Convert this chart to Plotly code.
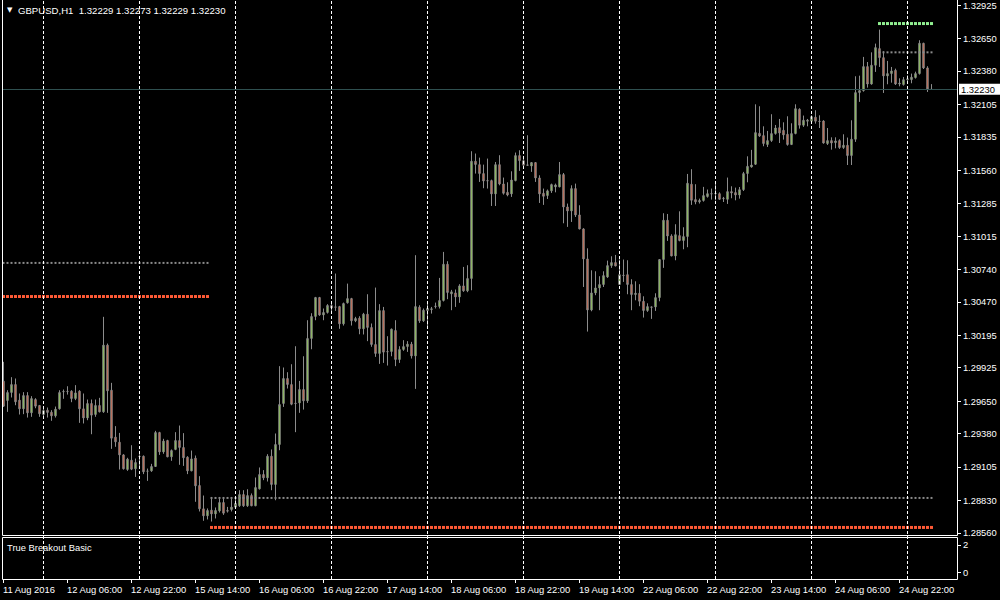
import plotly.graph_objects as go

# ---------------- data (GBPUSD H1, 11 Aug 2016 14:00 .. 25 Aug 2016 06:00) ----------------
symbol = "GBPUSD,H1"

opens = [
 1.29816,1.29656,1.29722,1.29788,1.29659,1.29587,1.29697,1.29554,1.29664,1.29615,
 1.29540,1.29576,1.29559,1.29529,1.29587,1.29728,1.29730,1.29733,1.29672,1.29733,
 1.29587,1.29512,1.29631,1.29540,1.29615,1.29562,1.30114,1.29741,1.29353,1.29311,
 1.29206,1.29085,1.29162,1.29091,1.29195,1.29195,1.29071,1.29074,1.29110,1.29391,
 1.29231,1.29325,1.29190,1.29251,1.29325,1.29267,1.29187,1.29074,1.29179,1.28953,
 1.28760,1.28702,1.28749,1.28718,1.28743,1.28812,1.28746,1.28754,1.28774,1.28785,
 1.28878,1.28785,1.28870,1.28785,1.28925,1.29044,1.29016,1.29195,1.28961,1.29292,
 1.29631,1.29838,1.29788,1.29634,1.29636,1.29747,1.29653,1.30169,1.30351,1.30508,
 1.30364,1.30384,1.30442,1.30430,1.30433,1.30290,1.30464,1.30499,1.30315,1.30337,
 1.30249,1.30370,1.30260,1.30119,1.30045,1.30400,1.30061,1.30061,1.30235,1.29995,
 1.30078,1.30102,1.30122,1.30025,1.30428,1.30315,1.30400,1.30408,1.30433,1.30433,
 1.30483,1.30783,1.30538,1.30546,1.30513,1.30604,1.30563,1.30665,1.31635,1.31607,
 1.31533,1.31475,1.31475,1.31365,1.31607,1.31447,1.31378,1.31365,1.31475,1.31682,
 1.31640,1.31605,1.31596,1.31624,1.31497,1.31370,1.31351,1.31390,1.31423,1.31423,
 1.31525,1.31257,1.31224,1.31409,1.31191,1.31075,1.30827,1.30405,1.30546,1.30587,
 1.30615,1.30678,1.30772,1.30797,1.30615,1.30692,1.30697,1.30615,1.30532,1.30543,
 1.30477,1.30400,1.30430,1.30430,1.30507,1.30822,1.31147,1.31017,1.30852,1.31020,
 1.30979,1.31012,1.31445,1.31318,1.31299,1.31310,1.31343,1.31367,1.31367,1.31367,
 1.31326,1.31320,1.31384,1.31376,1.31356,1.31400,1.31533,1.31588,1.31610,1.31866,
 1.31847,1.31773,1.31806,1.31864,1.31913,1.31891,1.31858,1.31773,1.31864,1.32065,
 1.31933,1.31966,1.31966,1.31999,1.31966,1.31968,1.31781,1.31806,1.31789,1.31806,
 1.31748,1.31767,1.31682,1.31817,1.32203,1.32219,1.32418,1.32274,1.32429,1.32567,
 1.32492,1.32341,1.32360,1.32387,1.32274,1.32269,1.32310,1.32310,1.32327,1.32360,
 1.32611,1.32407,1.32229,
]
highs = [
 1.29976,1.29741,1.29849,1.29838,1.29714,1.29725,1.29725,1.29692,1.29675,1.29618,
 1.29592,1.29598,1.29576,1.29606,1.29741,1.29747,1.29774,1.29741,1.29783,1.29741,
 1.29714,1.29664,1.29664,1.29664,1.29678,1.30348,1.30127,1.29802,1.29444,1.29388,
 1.29212,1.29182,1.29286,1.29176,1.29212,1.29201,1.29093,1.29132,1.29405,1.29397,
 1.29339,1.29331,1.29251,1.29394,1.29449,1.29386,1.29195,1.29242,1.29201,1.29030,
 1.28870,1.28763,1.28845,1.28771,1.28845,1.28845,1.28776,1.28845,1.28845,1.28914,
 1.28914,1.28922,1.28887,1.29019,1.29102,1.29080,1.29212,1.29251,1.29383,1.29940,
 1.29929,1.29890,1.29956,1.30105,1.29818,1.30022,1.30320,1.30378,1.30513,1.30513,
 1.30417,1.30453,1.30458,1.30706,1.30439,1.30466,1.30623,1.30505,1.30348,1.30353,
 1.30381,1.30535,1.30293,1.30590,1.30453,1.30430,1.30188,1.30251,1.30320,1.30105,
 1.30155,1.30147,1.30141,1.30858,1.30444,1.30417,1.30458,1.30430,1.30466,1.30670,
 1.30885,1.30808,1.30571,1.30574,1.30618,1.30761,1.30775,1.31718,1.31699,1.31665,
 1.31607,1.31657,1.31483,1.31629,1.31685,1.31500,1.31461,1.31552,1.31707,1.31726,
 1.31679,1.31850,1.31627,1.31627,1.31519,1.31409,1.31401,1.31450,1.31450,1.31629,
 1.31538,1.31285,1.31436,1.31450,1.31271,1.31081,1.30915,1.30733,1.30725,1.30684,
 1.30725,1.30813,1.30849,1.30860,1.30822,1.30822,1.30816,1.30659,1.30642,1.30618,
 1.30518,1.30460,1.30433,1.30543,1.30825,1.31205,1.31199,1.31031,1.31114,1.31221,
 1.31089,1.31530,1.31569,1.31445,1.31326,1.31423,1.31401,1.31409,1.31450,1.31378,
 1.31340,1.31500,1.31428,1.31417,1.31422,1.31547,1.31676,1.31729,1.32106,1.32090,
 1.31924,1.31886,1.32024,1.31935,1.31985,1.31957,1.32007,1.31949,1.32106,1.32073,
 1.32013,1.31985,1.32015,1.32057,1.32015,1.31974,1.31910,1.31833,1.31833,1.31817,
 1.31858,1.31831,1.31974,1.32338,1.32343,1.32498,1.32456,1.32536,1.32608,1.32724,
 1.32545,1.32465,1.32415,1.32401,1.32321,1.32332,1.32346,1.32360,1.32376,1.32636,
 1.32615,1.32421,1.32273,
]
lows = [
 1.29603,1.29562,1.29681,1.29617,1.29540,1.29543,1.29515,1.29521,1.29592,1.29521,
 1.29507,1.29515,1.29488,1.29515,1.29581,1.29670,1.29705,1.29642,1.29659,1.29471,
 1.29466,1.29493,1.29377,1.29521,1.29558,1.29554,1.29554,1.29256,1.29273,1.29085,
 1.29085,1.29074,1.29080,1.29024,1.29107,1.29047,1.28991,1.29066,1.29107,1.29206,
 1.29215,1.29187,1.29157,1.29245,1.29124,1.29115,1.29047,1.29071,1.28818,1.28738,
 1.28661,1.28672,1.28655,1.28680,1.28729,1.28710,1.28729,1.28738,1.28768,1.28776,
 1.28776,1.28776,1.28782,1.28782,1.28920,1.28997,1.28986,1.28914,1.28831,1.29245,
 1.29603,1.29755,1.29617,1.29394,1.29554,1.29581,1.29636,1.30080,1.30320,1.30356,
 1.30320,1.30375,1.30389,1.30397,1.30249,1.30276,1.30458,1.30276,1.30304,1.30204,
 1.30202,1.30147,1.30100,1.30017,1.29959,1.29967,1.29945,1.30022,1.29940,1.29967,
 1.30067,1.30058,1.30003,1.29752,1.30298,1.30306,1.30249,1.30375,1.30417,1.30417,
 1.30475,1.30494,1.30403,1.30430,1.30464,1.30555,1.30552,1.30568,1.31533,1.31464,
 1.31412,1.31409,1.31265,1.31265,1.31436,1.31359,1.31345,1.31340,1.31469,1.31555,
 1.31580,1.31596,1.31547,1.31464,1.31290,1.31274,1.31323,1.31373,1.31378,1.31420,
 1.31122,1.31092,1.31133,1.31174,1.31072,1.30595,1.30226,1.30394,1.30527,1.30403,
 1.30595,1.30670,1.30753,1.30766,1.30612,1.30637,1.30535,1.30403,1.30485,1.30436,
 1.30342,1.30389,1.30331,1.30397,1.30477,1.30753,1.30976,1.30849,1.30816,1.30973,
 1.30907,1.30924,1.31274,1.31279,1.31285,1.31301,1.31334,1.31318,1.31312,1.31318,
 1.31298,1.31282,1.31329,1.31312,1.31326,1.31389,1.31461,1.31582,1.31604,1.31836,
 1.31759,1.31753,1.31795,1.31855,1.31786,1.31814,1.31764,1.31770,1.31858,1.31905,
 1.31919,1.31924,1.31960,1.31946,1.31910,1.31781,1.31770,1.31731,1.31742,1.31737,
 1.31737,1.31604,1.31604,1.31795,1.32126,1.32211,1.32244,1.32269,1.32374,1.32415,
 1.32200,1.32272,1.32285,1.32266,1.32255,1.32261,1.32277,1.32280,1.32319,1.32352,
 1.32398,1.32208,1.32229,
]
closes = [
 1.29609,1.29722,1.29788,1.29645,1.29587,1.29697,1.29554,1.29672,1.29609,1.29546,
 1.29573,1.29557,1.29529,1.29584,1.29722,1.29730,1.29731,1.29672,1.29719,1.29587,
 1.29512,1.29631,1.29535,1.29615,1.29562,1.30114,1.29736,1.29344,1.29314,1.29206,
 1.29091,1.29171,1.29088,1.29143,1.29193,1.29066,1.29072,1.29110,1.29391,1.29231,
 1.29320,1.29190,1.29242,1.29325,1.29267,1.29182,1.29074,1.29173,1.28950,1.28760,
 1.28702,1.28746,1.28718,1.28746,1.28812,1.28724,1.28741,1.28774,1.28804,1.28878,
 1.28785,1.28870,1.28785,1.28936,1.29044,1.29016,1.29195,1.28961,1.29292,1.29623,
 1.29838,1.29788,1.29625,1.29631,1.29747,1.29653,1.30169,1.30351,1.30508,1.30364,
 1.30384,1.30442,1.30422,1.30428,1.30290,1.30458,1.30499,1.30315,1.30334,1.30249,
 1.30370,1.30260,1.30119,1.30045,1.30400,1.30056,1.30059,1.30246,1.29995,1.30078,
 1.30102,1.30122,1.30025,1.30433,1.30315,1.30403,1.30417,1.30414,1.30436,1.30483,
 1.30783,1.30549,1.30555,1.30513,1.30604,1.30563,1.30665,1.31635,1.31608,1.31533,
 1.31472,1.31473,1.31365,1.31607,1.31447,1.31370,1.31356,1.31480,1.31682,1.31640,
 1.31602,1.31602,1.31624,1.31497,1.31365,1.31345,1.31390,1.31442,1.31439,1.31525,
 1.31257,1.31224,1.31409,1.31191,1.31075,1.30827,1.30405,1.30546,1.30587,1.30615,
 1.30689,1.30772,1.30797,1.30769,1.30697,1.30690,1.30615,1.30532,1.30543,1.30477,
 1.30400,1.30433,1.30427,1.30507,1.30822,1.31147,1.31017,1.30852,1.31028,1.30979,
 1.31012,1.31453,1.31312,1.31299,1.31310,1.31351,1.31367,1.31365,1.31369,1.31320,
 1.31328,1.31384,1.31373,1.31356,1.31400,1.31533,1.31593,1.31604,1.31872,1.31844,
 1.31781,1.31806,1.31864,1.31910,1.31869,1.31853,1.31773,1.31864,1.32070,1.31933,
 1.31974,1.31974,1.32004,1.31966,1.31964,1.31786,1.31806,1.31786,1.31803,1.31748,
 1.31767,1.31682,1.31817,1.32203,1.32219,1.32418,1.32274,1.32429,1.32575,1.32492,
 1.32341,1.32360,1.32382,1.32274,1.32280,1.32310,1.32316,1.32330,1.32360,1.32611,
 1.32407,1.32233,1.32230,
]

# True Breakout levels: (first bar, last bar, price)
red_levels = [(0, 51, 1.30516), (52, 232, 1.28606)]
gray_levels = [(0, 51, 1.30794), (52, 232, 1.28850), (219, 232, 1.32536)]
green_levels = [(219, 232, 1.32774)]

# time axis labels (one every 16 bars) and day separators
time_labels = ["11 Aug 2016", "12 Aug 06:00", "12 Aug 22:00", "15 Aug 14:00",
               "16 Aug 06:00", "16 Aug 22:00", "17 Aug 14:00", "18 Aug 06:00",
               "18 Aug 22:00", "19 Aug 14:00", "22 Aug 06:00", "22 Aug 22:00",
               "23 Aug 14:00", "24 Aug 06:00", "24 Aug 22:00"]
label_every = 16
day_start_bars = [10, 34, 58, 82, 106, 130, 154, 178, 202, 226]

price_ticks = [1.32925, 1.32650, 1.32380, 1.32105, 1.31835, 1.31560, 1.31285,
               1.31015, 1.30740, 1.30470, 1.30195, 1.29925, 1.29650, 1.29380,
               1.29105, 1.28830, 1.28560]
indicator_ticks = [0, 2]
indicator_name = "True Breakout Basic"

# ---------------- layout geometry (pixels) ----------------
W, H = 1000, 600
PLOT_R = 957            # right edge of chart area
BAR_PX = 4
FIRST_BAR_PX = 3.5
MAIN_BOTTOM = 535
SUB_TOP, SUB_BOTTOM = 537, 579
TOP_TICK_PX, BOT_TICK_PX = 5.3, 533.0
FONT = "Liberation Sans"

k = (price_ticks[0] - price_ticks[-1]) / (BOT_TICK_PX - TOP_TICK_PX)
y_top = price_ticks[0] + TOP_TICK_PX * k
y_bot = price_ticks[0] - (MAIN_BOTTOM - TOP_TICK_PX) * k

x0 = -FIRST_BAR_PX / BAR_PX
x1 = x0 + PLOT_R / BAR_PX

def pxx(p):
    return p / PLOT_R

def pyy(p):
    return 1 - p / H

n = len(opens)
xs = list(range(n))

fig = go.Figure()
fig.add_trace(go.Candlestick(
    x=xs, open=opens, high=highs, low=lows, close=closes,
    increasing=dict(line=dict(color="#8c8c8c", width=1), fillcolor="#8fe33a"),
    decreasing=dict(line=dict(color="#8c8c8c", width=1), fillcolor="#e8552e"),
    whiskerwidth=0, xaxis="x", yaxis="y", hoverinfo="x+y"))

def add_levels(levels, color, size):
    for a, b, v in levels:
        bx = list(range(a, b + 1))
        fig.add_trace(go.Scatter(
            x=bx, y=[v] * len(bx), mode="markers", xaxis="x", yaxis="y",
            marker=dict(symbol="square", size=size, color=color, line=dict(width=0)),
            hoverinfo="skip"))

add_levels(gray_levels, "#8a8a8a", 2)
add_levels(red_levels, "#ff5a36", 3)
add_levels(green_levels, "#90ee90", 3)

# empty indicator pane trace
fig.add_trace(go.Scatter(x=[], y=[], xaxis="x", yaxis="y2", mode="lines"))

shapes = []
# vertical dashed day separators
for b in day_start_bars:
    shapes.append(dict(type="line", xref="x", yref="paper", x0=b, x1=b,
                       y0=pyy(SUB_BOTTOM), y1=1,
                       line=dict(color="white", width=1, dash="3px,2px")))
# current price line
last = closes[-1]
last_px = (y_top - last) / k
shapes.append(dict(type="line", xref="paper", yref="paper", x0=pxx(2.5), x1=pxx(PLOT_R),
                   y0=pyy(round(last_px) + 0.5), y1=pyy(round(last_px) + 0.5),
                   line=dict(color="#2f5050", width=1)))
# frames
def hline(yp, xa, xb):
    shapes.append(dict(type="line", xref="paper", yref="paper", x0=pxx(xa), x1=pxx(xb),
                       y0=pyy(yp), y1=pyy(yp), line=dict(color="white", width=1)))
def vline(xp, ya, yb):
    shapes.append(dict(type="line", xref="paper", yref="paper", x0=pxx(xp), x1=pxx(xp),
                       y0=pyy(ya), y1=pyy(yb), line=dict(color="white", width=1)))
vline(2.5, 0, MAIN_BOTTOM + 0.5)
vline(PLOT_R + 0.5, 0, MAIN_BOTTOM + 0.5)
hline(MAIN_BOTTOM + 0.5, 2.5, PLOT_R + 0.5)
vline(2.5, SUB_TOP + 0.5, SUB_BOTTOM + 0.5)
vline(PLOT_R + 0.5, SUB_TOP + 0.5, SUB_BOTTOM + 0.5)
hline(SUB_TOP + 0.5, 2.5, PLOT_R + 0.5)
hline(SUB_BOTTOM + 0.5, 2.5, PLOT_R + 0.5)

# current price label box
shapes.append(dict(type="rect", xref="paper", yref="paper",
                   x0=pxx(959), x1=pxx(1000), y0=pyy(last_px + 5.5), y1=pyy(last_px - 5.5),
                   fillcolor="white", line=dict(width=0)))

annotations = []
for i, t in enumerate(time_labels):
    annotations.append(dict(x=i * label_every, y=pyy(589.5), xref="x", yref="paper",
                            text=t, showarrow=False, xanchor="left", yanchor="middle",
                            xshift=-3, font=dict(family=FONT, size=9.4, color="white")))
annotations.append(dict(x=pxx(960), y=pyy(last_px), xref="paper", yref="paper",
                        text=f"{last:.5f}", showarrow=False, xanchor="left", yanchor="middle",
                        xshift=-1, font=dict(family=FONT, size=9.4, color="black")))
header = f"{symbol}\u00a0\u00a0{opens[-1]:.5f} {highs[-1]:.5f} {lows[-1]:.5f} {closes[-1]:.5f}"
annotations.append(dict(x=pxx(16), y=pyy(11), xref="paper", yref="paper", text=header,
                        showarrow=False, xanchor="left", yanchor="middle",
                        font=dict(family=FONT, size=9.6, color="white")))
annotations.append(dict(x=pxx(10), y=pyy(10.5), xref="paper", yref="paper", text="\u25bc",
                        showarrow=False, xanchor="center", yanchor="middle",
                        font=dict(family="DejaVu Sans", size=7, color="white")))
annotations.append(dict(x=pxx(5), y=pyy(547), xref="paper", yref="paper", text=indicator_name,
                        showarrow=False, xanchor="left", yanchor="middle",
                        font=dict(family=FONT, size=9.4, color="white")))

fig.update_layout(
    template="none", width=W, height=H,
    margin=dict(l=0, r=W - PLOT_R, t=0, b=0, pad=0),
    paper_bgcolor="black", plot_bgcolor="black", showlegend=False,
    boxgap=0.5,
    xaxis=dict(domain=[0, 1], range=[x0, x1], anchor="y2", showgrid=False, zeroline=False,
               showline=False, ticks="outside", ticklen=3, tickwidth=1, tickcolor="white",
               tickvals=[i * label_every for i in range(len(time_labels))],
               showticklabels=False, rangeslider=dict(visible=False), automargin=False,
               fixedrange=True),
    yaxis=dict(domain=[pyy(MAIN_BOTTOM), 1], range=[y_bot, y_top], anchor="x", side="right",
               showgrid=False, zeroline=False, showline=False, ticks="outside", ticklen=3,
               tickwidth=1, tickcolor="white", tickvals=price_ticks,
               ticktext=[f"{v:.5f}" for v in price_ticks], automargin=False,
               ticklabeloverflow="allow",
               tickfont=dict(family=FONT, size=9.4, color="white"), fixedrange=True),
    yaxis2=dict(domain=[pyy(SUB_BOTTOM), pyy(SUB_TOP)], range=[-0.46, 2.58], anchor="x",
                side="right", showgrid=False, zeroline=False, showline=False, ticks="outside",
                ticklen=3, tickwidth=1, tickcolor="white", tickvals=indicator_ticks,
                ticktext=[str(v) for v in indicator_ticks], automargin=False,
                ticklabeloverflow="allow",
                tickfont=dict(family=FONT, size=9.4, color="white"), fixedrange=True),
    shapes=shapes, annotations=annotations,
)

# remove the default page margin so the 1000x600 figure fills the window exactly
fig.write_html("out.html", config={"displayModeBar": False},
               post_script="document.body.style.margin='0px';document.body.style.background='black';")
